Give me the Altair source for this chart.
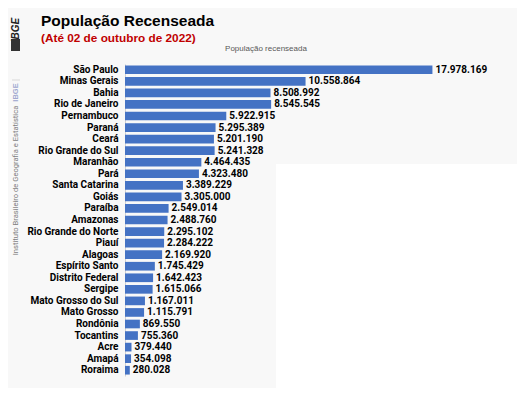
import altair as alt
import pandas as pd

states = ["São Paulo", "Minas Gerais", "Bahia", "Rio de Janeiro", "Pernambuco", "Paraná",
          "Ceará", "Rio Grande do Sul", "Maranhão", "Pará", "Santa Catarina", "Goiás",
          "Paraíba", "Amazonas", "Rio Grande do Norte", "Piauí", "Alagoas", "Espírito Santo",
          "Distrito Federal", "Sergipe", "Mato Grosso do Sul", "Mato Grosso", "Rondônia",
          "Tocantins", "Acre", "Amapá", "Roraima"]
population = [17978169, 10558864, 8508992, 8545545, 5922915, 5295389,
              5201190, 5241328, 4464435, 4323480, 3389229, 3305000,
              2549014, 2488760, 2295102, 2284222, 2169920, 1745429,
              1642423, 1615066, 1167011, 1115791, 869550,
              755360, 379440, 354098, 280028]

title_text = "População  Recenseada"
subtitle_text = "(Até 02 de outubro de 2022)"
chart_title = "População  recenseada"
side_logo = "IBGE"
side_org = "Instituto Brasileiro de Geografia e Estatística"

df = pd.DataFrame({
    "estado": states,
    "pop": population,
    "rotulo": [f"{v:,}".replace(",", ".") for v in population],
})

LBL = "Roboto"

y_enc = alt.Y("estado:N", sort=states, title=None,
              scale=alt.Scale(paddingInner=0.25, paddingOuter=0.125),
              axis=alt.Axis(labelFont=LBL, labelFontSize=10, labelFontWeight="bold",
                            labelColor="#000000", ticks=False, labelPadding=7,
                            domainColor="#d0d0d0", domainWidth=1))
x_enc = alt.X("pop:Q", title=None, scale=alt.Scale(domain=[0, 20000000], nice=False),
              axis=None)

def deco(text, **kw):
    return alt.Chart(pd.DataFrame({"t": [text]})).mark_text(**kw).encode(text="t:N")

white_box = alt.Chart(pd.DataFrame({"a": [0]})).mark_rect(color="#ffffff").encode(
    x=alt.value(151), x2=alt.value(392), y=alt.value(100), y2=alt.value(324))

bars = alt.Chart(df).mark_bar(color="#4472C4").encode(y=y_enc, x=x_enc)
labels = alt.Chart(df).mark_text(align="left", baseline="middle", dx=3, font=LBL,
                                 fontSize=10, fontWeight="bold", color="#000000").encode(
    y=alt.Y("estado:N", sort=states), x="pop:Q", text="rotulo:N")

title = deco(title_text, x=-84, y=-38, align="left", baseline="alphabetic",
             font="Liberation Sans", fontSize=15.5, fontWeight="bold", color="#000000")
subtitle = deco(subtitle_text, x=-84, y=-22, align="left", baseline="alphabetic",
                font="Liberation Sans", fontSize=11.8, fontWeight="bold", color="#C00000")
ctitle = deco(chart_title, x=141, y=-15, align="center", baseline="middle",
              font="Liberation Sans", fontSize=8, color="#595959")
logo = deco(side_logo, x=-109, y=-34, angle=270, align="center", baseline="middle",
            font="Liberation Sans", fontSize=10, fontWeight="bold", fontStyle="italic",
            color="#222222")
logo_sq = alt.Chart(pd.DataFrame({"a": [0]})).mark_rect(color="#333333").encode(
    x=alt.value(-114), x2=alt.value(-105), y=alt.value(-25), y2=alt.value(-13))
sep = alt.Chart(pd.DataFrame({"a": [0]})).mark_rule(color="#d8d8d8").encode(
    x=alt.value(-113), x2=alt.value(-105), y=alt.value(16))
ibge_small = deco(side_logo, x=-109, y=28.5, angle=270, align="center", baseline="middle",
                  font="Liberation Sans", fontSize=7.5, fontWeight="bold", color="#A0A8D0")
org = deco(side_org, x=-109, y=116.5, angle=270, align="center", baseline="middle",
           font="Roboto", fontSize=7.6, color="#7F7F7F")

chart = alt.layer(white_box, bars, labels, title, subtitle, ctitle, logo, logo_sq, sep,
                  ibge_small, org).properties(
    width=342, height=312,
    padding={"left": 117, "top": 56, "right": 50, "bottom": 12},
    autosize=alt.AutoSizeParams(type="none"),
    background="#f8f8f8",
).configure_view(stroke=None)

chart.save("out.html", embed_options={"renderer": "svg", "actions": False})
